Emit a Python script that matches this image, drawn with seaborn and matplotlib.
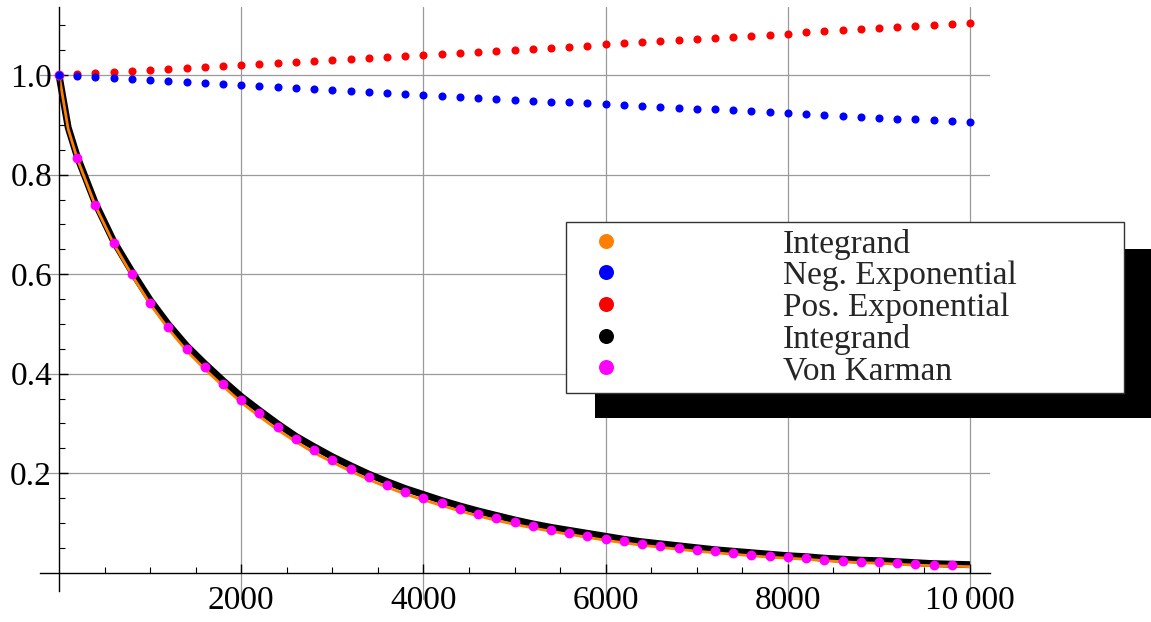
import matplotlib
matplotlib.use("Agg")

import matplotlib.pyplot as plt
from matplotlib import ticker
from matplotlib.lines import Line2D
from matplotlib.patches import Rectangle
import seaborn as sns


# ==========================================================
# Data
# ==========================================================

LINE_X = [
    0, 100, 200, 400, 600, 800, 1000, 1200, 1400, 1600, 1800,
    2000, 2200, 2400, 2600, 2800, 3000, 3200, 3400, 3600, 3800,
    4000, 4200, 4400, 4600, 4800, 5000, 5200, 5400, 5600, 5800,
    6000, 6200, 6400, 6600, 6800, 7000, 7200, 7400, 7600, 7800,
    8000, 8200, 8400, 8600, 8800, 9000, 9200, 9400, 9600, 9800,
    10000,
]

INTEGRAND_ORANGE = [
    1.000, 0.892, 0.832, 0.737, 0.661, 0.598, 0.540, 0.490, 0.446, 0.409, 0.375,
    0.342, 0.314, 0.287, 0.263, 0.241, 0.222, 0.204, 0.187, 0.172, 0.158,
    0.146, 0.135, 0.124, 0.114, 0.105, 0.097, 0.090, 0.083, 0.077, 0.071,
    0.065, 0.060, 0.055, 0.051, 0.047, 0.043, 0.040, 0.037, 0.034, 0.031,
    0.029, 0.027, 0.024, 0.022, 0.020, 0.019, 0.017, 0.015, 0.014, 0.013,
    0.012,
]

INTEGRAND_BLACK = [
    1.000, 0.895, 0.836, 0.742, 0.666, 0.605, 0.548, 0.499, 0.456, 0.420, 0.386,
    0.354, 0.326, 0.299, 0.274, 0.253, 0.233, 0.215, 0.198, 0.183, 0.169,
    0.157, 0.145, 0.134, 0.124, 0.115, 0.106, 0.098, 0.091, 0.085, 0.079,
    0.073, 0.067, 0.062, 0.058, 0.054, 0.050, 0.046, 0.043, 0.040, 0.037,
    0.034, 0.032, 0.029, 0.027, 0.025, 0.024, 0.022, 0.020, 0.018, 0.017,
    0.016,
]

EXP_X = [
    0, 200, 400, 600, 800, 1000, 1200, 1400, 1600, 1800, 2000,
    2200, 2400, 2600, 2800, 3000, 3200, 3400, 3600, 3800, 4000,
    4200, 4400, 4600, 4800, 5000, 5200, 5400, 5600, 5800, 6000,
    6200, 6400, 6600, 6800, 7000, 7200, 7400, 7600, 7800, 8000,
    8200, 8400, 8600, 8800, 9000, 9200, 9400, 9600, 9800, 10000,
]

NEG_EXP = [
    1.000, 0.998, 0.996, 0.994, 0.992, 0.990, 0.988, 0.986, 0.984, 0.982, 0.980,
    0.978, 0.976, 0.974, 0.972, 0.970, 0.968, 0.966, 0.965, 0.963, 0.961,
    0.959, 0.957, 0.955, 0.953, 0.951, 0.949, 0.947, 0.946, 0.944, 0.942,
    0.940, 0.938, 0.936, 0.934, 0.932, 0.931, 0.929, 0.927, 0.925, 0.923,
    0.921, 0.920, 0.918, 0.916, 0.914, 0.912, 0.911, 0.909, 0.907, 0.905,
]

POS_EXP = [
    1.000, 1.002, 1.004, 1.006, 1.008, 1.010, 1.012, 1.014, 1.016, 1.018, 1.020,
    1.022, 1.024, 1.026, 1.028, 1.030, 1.032, 1.034, 1.037, 1.039, 1.041,
    1.043, 1.045, 1.047, 1.049, 1.051, 1.053, 1.055, 1.057, 1.059, 1.062,
    1.064, 1.066, 1.068, 1.070, 1.073, 1.075, 1.077, 1.079, 1.081, 1.083,
    1.086, 1.088, 1.090, 1.092, 1.094, 1.097, 1.099, 1.101, 1.103, 1.105,
]

KARMAN_X = [
    0, 200, 400, 600, 800, 1000, 1200, 1400, 1600, 1800,
    2000, 2200, 2400, 2600, 2800, 3000, 3200, 3400, 3600, 3800,
    4000, 4200, 4400, 4600, 4800, 5000, 5200, 5400, 5600, 5800,
    6000, 6200, 6400, 6600, 6800, 7000, 7200, 7400, 7600, 7800,
    8000, 8200, 8400, 8600, 8800, 9000, 9200, 9400, 9600, 9800,
]

VON_KARMAN = [
    1.000, 0.833, 0.739, 0.663, 0.601, 0.543, 0.494, 0.450, 0.414, 0.380,
    0.348, 0.320, 0.293, 0.268, 0.247, 0.227, 0.209, 0.192, 0.177, 0.163,
    0.151, 0.139, 0.128, 0.118, 0.109, 0.101, 0.093, 0.086, 0.080, 0.074,
    0.068, 0.063, 0.058, 0.054, 0.050, 0.046, 0.043, 0.039, 0.036, 0.034,
    0.031, 0.029, 0.026, 0.024, 0.022, 0.021, 0.019, 0.017, 0.016, 0.015,
]

X_TICKS = [2000, 4000, 6000, 8000, 10000]
X_TICK_LABELS = ["2000", "4000", "6000", "8000", "10\u2009000"]
Y_TICKS = [0.2, 0.4, 0.6, 0.8, 1.0]
Y_TICK_LABELS = ["0.2", "0.4", "0.6", "0.8", "1.0"]

LEGEND_LABELS = [
    "Integrand",
    "Neg. Exponential",
    "Pos. Exponential",
    "Integrand",
    "Von Karman",
]

ORANGE = "#FF8000"
BLUE = "#0000FF"
RED = "#FF0000"
BLACK = "#000000"
MAGENTA = "#FF00FF"
LEGEND_COLORS = [ORANGE, BLUE, RED, BLACK, MAGENTA]


# ==========================================================
# Figure
# ==========================================================

sns.set_theme(style="white")
plt.rcParams["font.family"] = ["Liberation Serif", "DejaVu Serif"]

W, H = 1151, 622
fig = plt.figure(figsize=(W / 100, H / 100), dpi=100)

# axes box in pixels: left 40, right 990, top 7, bottom 600
ax = fig.add_axes([40 / W, (H - 600) / H, 950 / W, 593 / H])
ax.set_facecolor("white")

sns.lineplot(x=LINE_X, y=INTEGRAND_BLACK, ax=ax, color=BLACK, linewidth=5.0,
             sort=False, estimator=None, zorder=2, solid_capstyle="butt")
sns.lineplot(x=LINE_X, y=INTEGRAND_ORANGE, ax=ax, color=ORANGE, linewidth=2.0,
             sort=False, estimator=None, zorder=2.2, solid_capstyle="butt")
sns.scatterplot(x=KARMAN_X, y=VON_KARMAN, ax=ax, color=MAGENTA, s=50,
                linewidth=0, zorder=3)
sns.scatterplot(x=EXP_X, y=POS_EXP, ax=ax, color=RED, s=34,
                linewidth=0, zorder=4)
sns.scatterplot(x=EXP_X, y=NEG_EXP, ax=ax, color=BLUE, s=34,
                linewidth=0, zorder=4)

ax.set_xlim(-209, 10219)
ax.set_ylim(-0.055, 1.137)

# axes crossing at the origin
for side in ["top", "right"]:
    ax.spines[side].set_visible(False)
ax.spines["left"].set_position(("data", 0))
ax.spines["bottom"].set_position(("data", 0))
ax.spines["left"].set_bounds(-0.037, 1.137)
for side in ["left", "bottom"]:
    ax.spines[side].set_color("black")
    ax.spines[side].set_linewidth(1.0)

ax.set_xticks(X_TICKS)
ax.set_xticklabels(X_TICK_LABELS)
ax.set_yticks(Y_TICKS)
ax.set_yticklabels(Y_TICK_LABELS)
ax.set_xticks([500 * k for k in range(1, 21)], minor=True)
ax.set_yticks([0.05 * k for k in range(1, 23)], minor=True)

ax.tick_params(axis="both", which="major", direction="in", length=6.5,
               width=1.0, color="black", labelsize=24, labelcolor="black")
ax.tick_params(axis="both", which="minor", direction="in", length=4,
               width=0.8, color="black")
ax.tick_params(axis="x", which="major", pad=9)
ax.tick_params(axis="y", which="major", pad=5)
ax.tick_params(bottom=True, left=True, which="both")

ax.grid(True, which="major", color="#9a9a9a", linewidth=0.9)
ax.set_axisbelow(True)
ax.set_xlabel("")
ax.set_ylabel("")

# legend with a solid black drop shadow
handles = [
    Line2D([], [], linestyle="", marker="o", markersize=10.8,
           markerfacecolor=c, markeredgewidth=0)
    for c in LEGEND_COLORS
]

shadow = Rectangle((595 / W, 1 - 418 / H), 1 - 595 / W, 169 / H,
                   transform=fig.transFigure, facecolor="black",
                   edgecolor="none", zorder=3)
fig.patches.append(shadow)

leg = fig.legend(
    handles,
    LEGEND_LABELS,
    loc="upper left",
    bbox_to_anchor=(566 / W, 1 - 389 / H, 558 / W, 167 / H),
    bbox_transform=fig.transFigure,
    mode="expand",
    borderaxespad=0,
    borderpad=0.2,
    handlelength=2.0,
    handletextpad=4.3,
    labelspacing=0.03,
    fontsize=24,
    frameon=True,
    fancybox=False,
    framealpha=1,
    edgecolor="#333333",
)
leg.set_zorder(5)
leg.get_frame().set_linewidth(1.0)

fig.savefig("out.png", dpi=100)
